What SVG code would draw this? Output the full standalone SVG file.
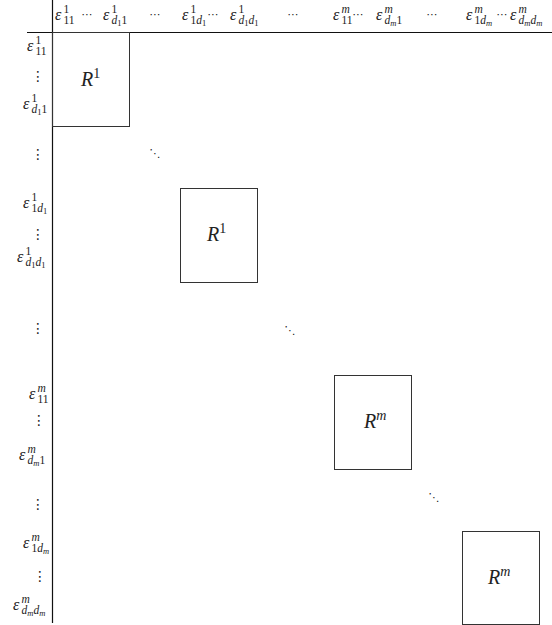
<svg xmlns="http://www.w3.org/2000/svg" width="552" height="625" viewBox="0 0 552 625">
<style>
text{font-family:"Liberation Serif","DejaVu Serif",serif;fill:#222}
.e{font-size:16px;font-style:italic}
.sp{font-size:11.5px}
.sb{font-size:11.5px;font-style:normal}
.ss{font-size:8.5px}
.i{font-style:italic}
.r{font-size:20px;font-style:italic}
.rs{font-size:14px}
.dots{font-family:"DejaVu Sans",sans-serif;font-size:11px;text-anchor:middle;fill:#222}
.vd{font-size:14px}
.box{fill:none;stroke:#333;stroke-width:1}
.axis{stroke:#111;stroke-width:1.2}
</style>
<rect width="552" height="625" fill="#fff"/>
<g id="axes">
<line class="axis" x1="52.5" y1="0" x2="52.5" y2="623"/>
<line class="axis" x1="27" y1="32.5" x2="552" y2="32.5"/>
</g>
<g id="blocks">
<g id="block1"><rect class="box" x="52.5" y="32.5" width="77" height="94"/><text x="81" y="86"><tspan class="r">R</tspan><tspan class="rs" dy="-8">1</tspan></text></g>
<g id="block2"><rect class="box" x="180.5" y="188.5" width="77" height="94"/><text x="207" y="241"><tspan class="r">R</tspan><tspan class="rs" dy="-8">1</tspan></text></g>
<g id="block3"><rect class="box" x="334.5" y="375.5" width="77" height="94"/><text x="364" y="428"><tspan class="r">R</tspan><tspan class="rs i" dy="-8">m</tspan></text></g>
<g id="block4"><rect class="box" x="462.5" y="531.5" width="77" height="93"/><text x="488" y="584"><tspan class="r">R</tspan><tspan class="rs i" dy="-8">m</tspan></text></g>
</g>
<g id="col-labels">
<text><tspan class="e" x="55" y="20">ε</tspan><tspan class="sp" x="63.5" y="12.5">1</tspan><tspan class="sb" x="63.5" y="23.5">11</tspan></text>
<text class="dots" x="87" y="18">⋯</text>
<text><tspan class="e" x="103" y="20">ε</tspan><tspan class="sp" x="111.5" y="12.5">1</tspan><tspan class="sb i" x="111.5" y="23.5">d</tspan><tspan class="ss" dy="2.5">1</tspan><tspan class="sb" dy="-2.5">1</tspan></text>
<text class="dots" x="155" y="18">⋯</text>
<text><tspan class="e" x="182" y="20">ε</tspan><tspan class="sp" x="190.5" y="12.5">1</tspan><tspan class="sb" x="190.5" y="23.5">1</tspan><tspan class="sb i">d</tspan><tspan class="ss" dy="2.5">1</tspan></text>
<text class="dots" x="213" y="18">⋯</text>
<text><tspan class="e" x="230" y="20">ε</tspan><tspan class="sp" x="238.5" y="12.5">1</tspan><tspan class="sb i" x="238.5" y="23.5">d</tspan><tspan class="ss" dy="2.5">1</tspan><tspan class="sb i" dy="-2.5">d</tspan><tspan class="ss" dy="2.5">1</tspan></text>
<text class="dots" x="293" y="18">⋯</text>
<text><tspan class="e" x="333" y="20">ε</tspan><tspan class="sp i" x="341.5" y="12.5">m</tspan><tspan class="sb" x="341.5" y="23.5">11</tspan></text>
<text class="dots" x="358" y="18">⋯</text>
<text><tspan class="e" x="376" y="20">ε</tspan><tspan class="sp i" x="384.5" y="12.5">m</tspan><tspan class="sb i" x="384.5" y="23.5">d</tspan><tspan class="ss i" dy="2.5">m</tspan><tspan class="sb" dy="-2.5">1</tspan></text>
<text class="dots" x="432" y="18">⋯</text>
<text><tspan class="e" x="466" y="20">ε</tspan><tspan class="sp i" x="474.5" y="12.5">m</tspan><tspan class="sb" x="474.5" y="23.5">1</tspan><tspan class="sb i">d</tspan><tspan class="ss i" dy="2.5">m</tspan></text>
<text class="dots" x="502" y="18">⋯</text>
<text><tspan class="e" x="510" y="20">ε</tspan><tspan class="sp i" x="518.5" y="12.5">m</tspan><tspan class="sb i" x="518.5" y="23.5">d</tspan><tspan class="ss i" dy="2.5">m</tspan><tspan class="sb i" dy="-2.5">d</tspan><tspan class="ss i" dy="2.5">m</tspan></text>
</g>
<g id="row-labels">
<text><tspan class="e" x="27" y="51">ε</tspan><tspan class="sp" x="35.5" y="43.5">1</tspan><tspan class="sb" x="35.5" y="54.5">11</tspan></text>
<text class="dots vd" x="38" y="81">⋮</text>
<text><tspan class="e" x="23" y="109">ε</tspan><tspan class="sp" x="31.5" y="101.5">1</tspan><tspan class="sb i" x="31.5" y="112.5">d</tspan><tspan class="ss" dy="2.5">1</tspan><tspan class="sb" dy="-2.5">1</tspan></text>
<text class="dots vd" x="38" y="159">⋮</text>
<text><tspan class="e" x="23" y="208">ε</tspan><tspan class="sp" x="31.5" y="200.5">1</tspan><tspan class="sb" x="31.5" y="211.5">1</tspan><tspan class="sb i">d</tspan><tspan class="ss" dy="2.5">1</tspan></text>
<text class="dots vd" x="38" y="239">⋮</text>
<text><tspan class="e" x="17" y="262">ε</tspan><tspan class="sp" x="25.5" y="254.5">1</tspan><tspan class="sb i" x="25.5" y="265.5">d</tspan><tspan class="ss" dy="2.5">1</tspan><tspan class="sb i" dy="-2.5">d</tspan><tspan class="ss" dy="2.5">1</tspan></text>
<text class="dots vd" x="38" y="333">⋮</text>
<text><tspan class="e" x="29" y="399">ε</tspan><tspan class="sp i" x="37.5" y="391.5">m</tspan><tspan class="sb" x="37.5" y="402.5">11</tspan></text>
<text class="dots vd" x="39" y="425">⋮</text>
<text><tspan class="e" x="19" y="460">ε</tspan><tspan class="sp i" x="27.5" y="452.5">m</tspan><tspan class="sb i" x="27.5" y="463.5">d</tspan><tspan class="ss i" dy="2.5">m</tspan><tspan class="sb" dy="-2.5">1</tspan></text>
<text class="dots vd" x="38" y="509">⋮</text>
<text><tspan class="e" x="23" y="548">ε</tspan><tspan class="sp i" x="31.5" y="540.5">m</tspan><tspan class="sb" x="31.5" y="551.5">1</tspan><tspan class="sb i">d</tspan><tspan class="ss i" dy="2.5">m</tspan></text>
<text class="dots vd" x="40" y="581">⋮</text>
<text><tspan class="e" x="13" y="610">ε</tspan><tspan class="sp i" x="21.5" y="602.5">m</tspan><tspan class="sb i" x="21.5" y="613.5">d</tspan><tspan class="ss i" dy="2.5">m</tspan><tspan class="sb i" dy="-2.5">d</tspan><tspan class="ss i" dy="2.5">m</tspan></text>
</g>
<g id="diag-dots">
<text class="dots" x="155" y="157">⋱</text>
<text class="dots" x="290" y="334">⋱</text>
<text class="dots" x="434" y="501">⋱</text>
</g>
</svg>
